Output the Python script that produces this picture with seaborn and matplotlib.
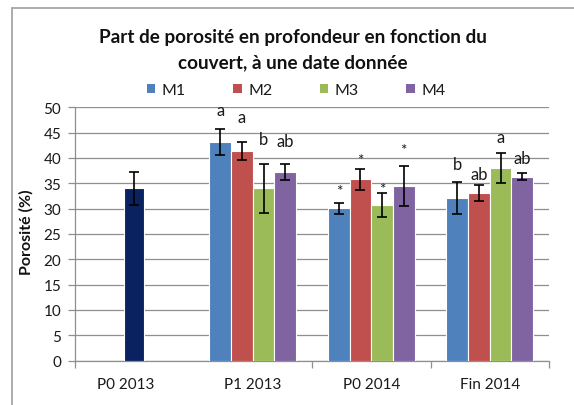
import matplotlib
matplotlib.use("Agg")
import matplotlib.pyplot as plt
from matplotlib.lines import Line2D
from matplotlib.patches import Patch
import seaborn as sns
import pandas as pd
import numpy as np

# ---- data ----
categories = ["P0 2013", "P1 2013", "P0 2014", "Fin 2014"]
series = ["M1", "M2", "M3", "M4"]
dates_m = ["P1 2013", "P0 2014", "Fin 2014"]

p0_2013_value = [34.0]
p0_2013_err = [3.2]

m1_values = [43.1, 30.1, 32.1]
m2_values = [41.3, 35.8, 33.1]
m3_values = [34.0, 30.7, 38.0]
m4_values = [37.2, 34.5, 36.3]

m1_err = [2.6, 1.1, 3.1]
m2_err = [1.8, 2.1, 1.6]
m3_err = [4.8, 2.3, 2.9]
m4_err = [1.6, 4.0, 0.7]

m1_labels = ["a", "*", "b"]
m2_labels = ["a", "*", "ab"]
m3_labels = ["b", "*", "a"]
m4_labels = ["ab", "*", "ab"]

# label heights (baseline, data units)
m1_label_y = [48.4, 32.7, 37.8]
m2_label_y = [47.0, 38.8, 35.8]
m3_label_y = [42.7, 33.0, 43.2]
m4_label_y = [42.4, 40.7, 39.0]

yticks = [0, 5, 10, 15, 20, 25, 30, 35, 40, 45, 50]

colors = {"M1": "#4F81BD", "M2": "#C0504D", "M3": "#9BBB59", "M4": "#8064A2"}
dark = "#0A2260"

# ---- dataframe ----
rows = []
vals = [m1_values, m2_values, m3_values, m4_values]
errs = [m1_err, m2_err, m3_err, m4_err]
labs = [m1_labels, m2_labels, m3_labels, m4_labels]
laby = [m1_label_y, m2_label_y, m3_label_y, m4_label_y]
for s, v, e, l, ly in zip(series, vals, errs, labs, laby):
    for d, vv, ee, ll, yy in zip(dates_m, v, e, l, ly):
        rows.append(dict(date=d, serie=s, value=vv, err=ee, lab=ll, laby=yy))
df = pd.DataFrame(rows)
df0 = pd.DataFrame(dict(date=["P0 2013"], value=p0_2013_value, err=p0_2013_err))

sns.set_style("white")
plt.rcParams["font.family"] = ["Lato", "DejaVu Sans"]

W, H = 574, 406
fig = plt.figure(figsize=(W / 100, H / 100), dpi=100)
ax = fig.add_axes([75 / W, 1 - 361.5 / H, 474 / W, 253.2 / H])

sns.barplot(data=df, x="date", y="value", hue="serie", order=categories,
            hue_order=series, palette=colors, width=0.73, errorbar=None,
            saturation=1, edgecolor="white", linewidth=0.8, ax=ax,
            legend=False, zorder=3)
n_m = len(ax.containers)
sns.barplot(data=df0, x="date", y="value", order=categories, color=dark,
            width=0.165, errorbar=None, saturation=1, edgecolor="white",
            linewidth=0.8, ax=ax, zorder=3)
bar_containers = list(ax.containers)

# error bars and significance labels, positioned from the drawn bars
for ci_, cont in enumerate(bar_containers):
    for p in cont:
        if p is None:
            continue
        h = p.get_height()
        if not np.isfinite(h) or h <= 0:
            continue
        xc = p.get_x() + p.get_width() / 2
        cat = categories[int(round(xc))]
        if ci_ >= n_m:
            e = df0["err"].iloc[0]
            lab = None
        else:
            sname = series[ci_]
            r = df[(df.date == cat) & (df.serie == sname)].iloc[0]
            e = r["err"]
            lab = (r["lab"], r["laby"])
        ax.errorbar(xc, h, yerr=e, fmt="none", ecolor="black", elinewidth=1.2,
                    capsize=3.3, capthick=1.2, zorder=4)
        if lab is not None:
            ax.text(xc, lab[1], lab[0], ha="center", va="baseline",
                    fontsize=12 if lab[0] != "*" else 11, color="#1a1a1a",
                    zorder=5, clip_on=True)

ax.set_xlim(-0.5, 3.5)
ax.set_ylim(0, 50)
ax.set_yticks(yticks)
ax.set_yticklabels([str(t) for t in yticks])
ax.set_xticks([-0.07, 1, 2, 3])
ax.set_xticklabels(categories)
ax.set_xticks([-0.5, 1.5, 2.5, 3.5], minor=True)
ax.set_xlabel("")
ax.set_ylabel("")
ax.yaxis.grid(True, color="#8f8f8f", linewidth=0.9, zorder=0)
ax.xaxis.grid(False)
ax.set_axisbelow(True)
for sp in ["top", "right"]:
    ax.spines[sp].set_visible(False)
for sp in ["left", "bottom"]:
    ax.spines[sp].set_color("#8f8f8f")
    ax.spines[sp].set_linewidth(0.9)
ax.tick_params(axis="y", which="major", left=True, length=5, width=0.9,
               color="#8f8f8f", labelsize=11, labelcolor="#1a1a1a", pad=5)
ax.tick_params(axis="x", which="major", length=0, labelsize=11,
               labelcolor="#1a1a1a", pad=12)
ax.tick_params(axis="x", which="minor", bottom=True, length=5, width=0.9,
               color="#8f8f8f")

# legend
handles = [Patch(facecolor=colors[s], edgecolor="none") for s in series]
fig.legend(handles, series, ncol=4, loc="center",
           bbox_to_anchor=(296 / W, 1 - 91 / H), frameon=False,
           fontsize=11.5, handlelength=0.55, handleheight=0.55,
           handletextpad=0.4, columnspacing=2.95, labelcolor="#1a1a1a")

# title
fig.text(293 / W, 1 - 37 / H, "Part de porosité en profondeur en fonction du",
         ha="center", va="center", fontsize=13.6, fontweight="bold",
         color="#111111")
fig.text(293 / W, 1 - 63 / H, "couvert, à une date donnée",
         ha="center", va="center", fontsize=13.6, fontweight="bold",
         color="#111111")

# y label
fig.text(26 / W, 1 - 232 / H, "Porosité (%)", rotation=90, ha="center",
         va="center", fontsize=11.5, fontweight="bold", color="#111111")

# chart border (top and left visible)
fig.add_artist(Line2D([12 / W, 12 / W], [0, 1 - 9 / H], transform=fig.transFigure,
                      color="#a6a6a6", linewidth=1.3))
fig.add_artist(Line2D([12 / W, 1], [1 - 9 / H, 1 - 9 / H], transform=fig.transFigure,
                      color="#a6a6a6", linewidth=1.3))

fig.savefig("out.png", dpi=100)
